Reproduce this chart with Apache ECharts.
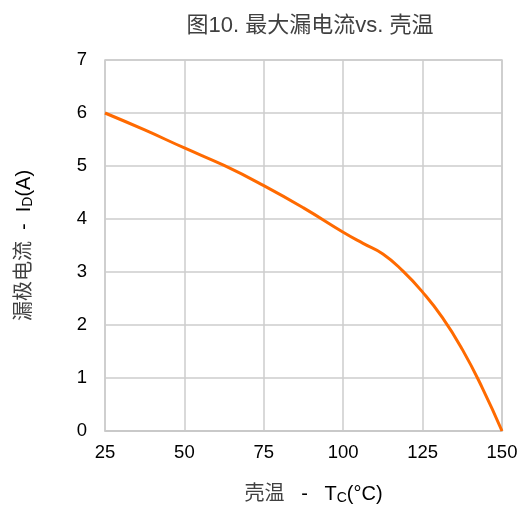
<!DOCTYPE html>
<html>
<head>
<meta charset="utf-8">
<script src="https://cdn.jsdelivr.net/npm/echarts@6/dist/echarts.min.js"></script>
<style>html,body{margin:0;padding:0;background:#fff}#c{width:526px;height:505px}</style>
</head>
<body>
<div id="c"></div>
<script>
var titleText = '图10. 最大漏电流vs. 壳温';
var xTicks = [25, 50, 75, 100, 125, 150];
var yTicks = [0, 1, 2, 3, 4, 5, 6, 7];
var caseTemp = [25, 37.5, 50, 62.5, 75, 87.5, 100, 106.25, 112.5, 118.75, 125, 131.25, 137.5, 143.75, 150];
var drainCurrent = [6.0, 5.68, 5.34, 5.01, 4.63, 4.21, 3.75, 3.54, 3.34, 3.02, 2.62, 2.14, 1.54, 0.82, 0];

var chart = echarts.init(document.getElementById('c'), null, {renderer: 'canvas'});
var cn = 'Liberation Sans, Arial, Noto Sans CJK SC, sans-serif';
var data = caseTemp.map(function (t, i) { return [t, drainCurrent[i]]; });
chart.setOption({
  animation: false,
  backgroundColor: '#fff',
  title: {
    text: titleText,
    left: 305, top: 10, textAlign: 'center',
    textStyle: {fontSize: 22, fontWeight: 'normal', color: '#404040', fontFamily: cn}
  },
  grid: {left: 105, right: 24, top: 60, bottom: 74, show: true, borderColor: '#cccccc', borderWidth: 1.5,
         containLabel: false, outerBoundsMode: 'none'},
  xAxis: {
    type: 'value', min: xTicks[0], max: xTicks[xTicks.length - 1], interval: 25,
    axisLine: {show: true, lineStyle: {color: '#c8c8c8', width: 1.5}},
    axisTick: {show: false},
    axisLabel: {fontSize: 18.5, color: '#000', margin: 13, fontFamily: cn},
    splitLine: {show: true, lineStyle: {color: '#cccccc', width: 1.5}},
    name: '{cn|壳温}{t|   -   T}{sub|C}{t|(°C)}',
    nameLocation: 'middle', nameGap: 52,
    nameTextStyle: {
      fontFamily: cn,
      padding: [0, 0, 0, 20],
      rich: {
        cn: {fontSize: 20, color: '#404040', fontFamily: cn},
        t: {fontSize: 20, color: '#000', fontFamily: cn},
        sub: {fontSize: 14, color: '#000', fontFamily: cn, padding: [8, 0, 0, 0]}
      }
    }
  },
  yAxis: {
    type: 'value', min: yTicks[0], max: yTicks[yTicks.length - 1], interval: 1,
    axisLine: {show: false},
    axisTick: {show: false},
    axisLabel: {fontSize: 18.5, color: '#000', margin: 18, fontFamily: cn},
    splitLine: {show: true, lineStyle: {color: '#cccccc', width: 1.5}},
    name: '{cn|漏极电流}{t|  -  I}{sub|D}{t|(A)}',
    nameLocation: 'middle', nameGap: 70, nameRotate: 90,
    nameTextStyle: {
      fontFamily: cn,
      rich: {
        cn: {fontSize: 20, color: '#404040', fontFamily: cn},
        t: {fontSize: 20, color: '#000', fontFamily: cn},
        sub: {fontSize: 14, color: '#000', fontFamily: cn, padding: [8, 0, 0, 0]}
      }
    }
  },
  series: [{
    type: 'line', data: data, smooth: true, showSymbol: false,
    lineStyle: {color: '#ff6a00', width: 3},
    clip: false
  }]
});
</script>
</body>
</html>
